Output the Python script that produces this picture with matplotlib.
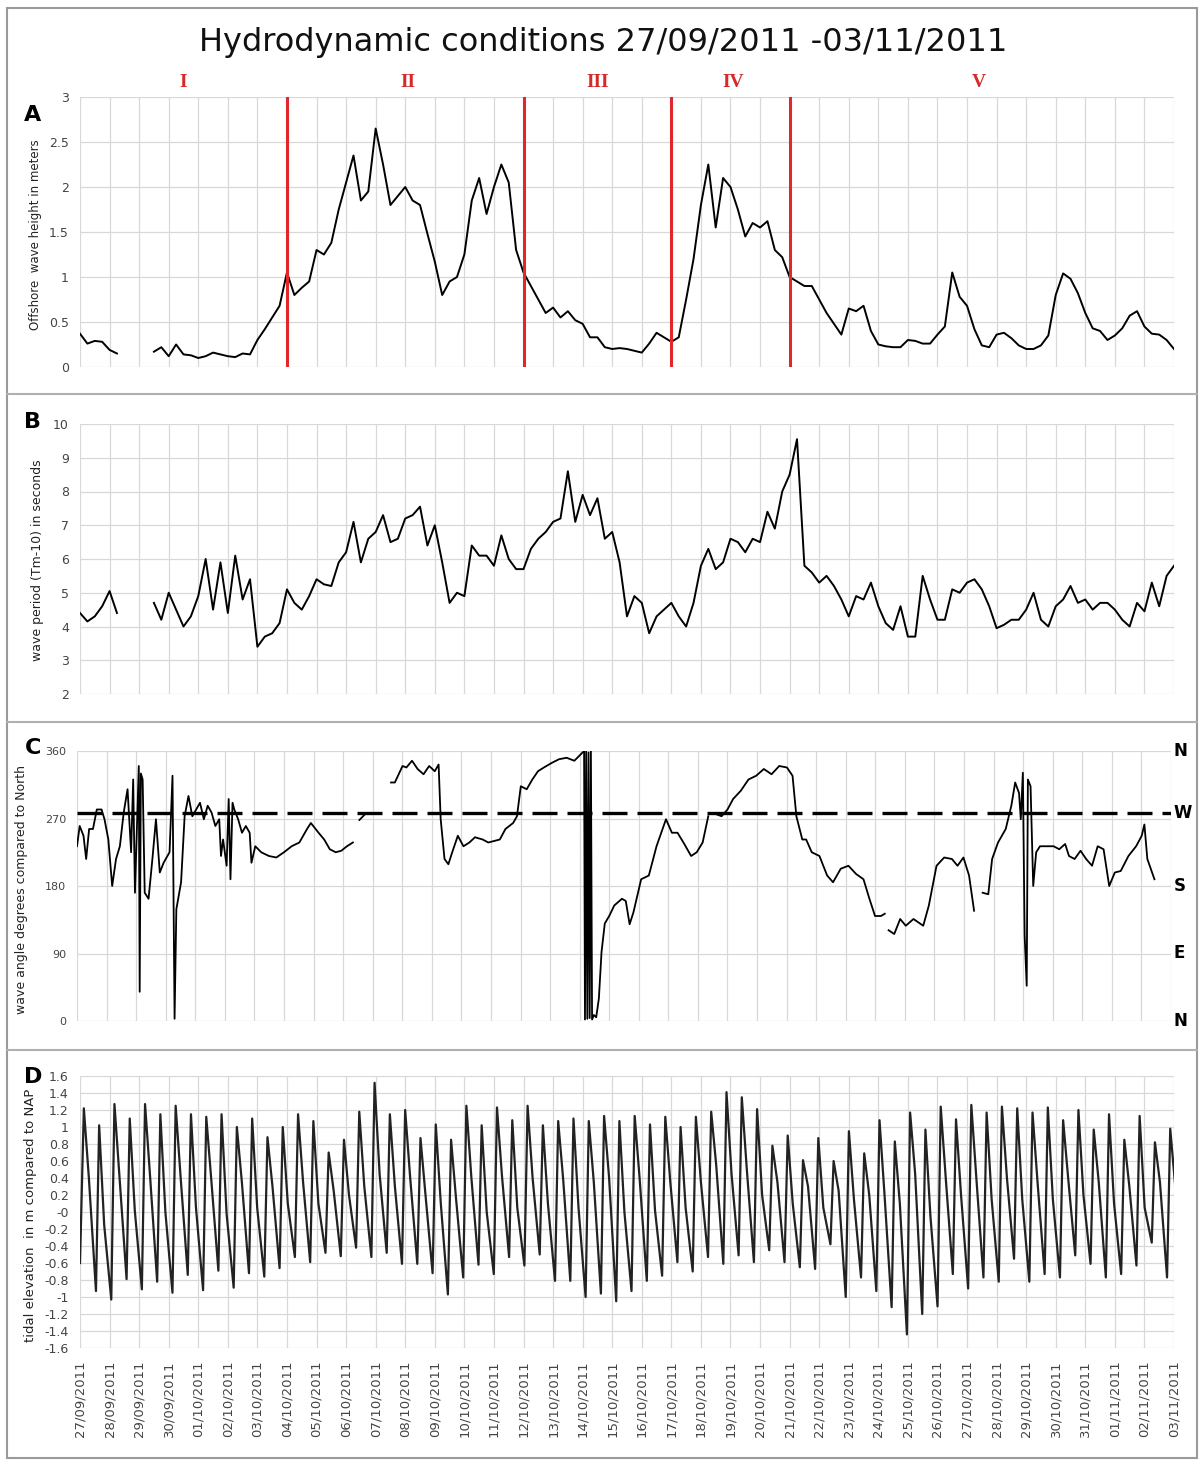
import numpy as np
import pandas as pd
import matplotlib
matplotlib.use('Agg')
import matplotlib.pyplot as plt
from matplotlib.patches import Rectangle
from matplotlib.lines import Line2D

nan = np.nan

# daily ticks 27/09/2011 .. 03/11/2011
dates = pd.date_range('2011-09-27', '2011-11-03', freq='D')
date_labels = [d.strftime('%d/%m/%Y') for d in dates]

# A: offshore wave height (m), 6-hourly values from 27/09 00:00
wave_height = [
    0.37, 0.26, 0.29, 0.28,  0.19, 0.15, nan, nan,  nan, nan, 0.17, 0.22,
    0.12, 0.25, 0.14, 0.13,  0.10, 0.12, 0.16, 0.14,  0.12, 0.11, 0.15, 0.14,
    0.30, 0.42, 0.55, 0.68,  1.05, 0.80, 0.88, 0.95,  1.30, 1.25, 1.38, 1.75,
    2.05, 2.35, 1.85, 1.95,  2.65, 2.25, 1.80, 1.90,  2.00, 1.85, 1.80, 1.48,
    1.17, 0.80, 0.95, 1.00,  1.25, 1.85, 2.10, 1.70,  2.00, 2.25, 2.05, 1.30,
    1.05, 0.90, 0.75, 0.60,  0.66, 0.55, 0.62, 0.52,  0.48, 0.33, 0.33, 0.22,
    0.20, 0.21, 0.20, 0.18,  0.16, 0.26, 0.38, 0.33,  0.28, 0.33, 0.75, 1.20,
    1.80, 2.25, 1.55, 2.10,  2.00, 1.75, 1.45, 1.60,  1.55, 1.62, 1.30, 1.22,
    1.00, 0.95, 0.90, 0.90,  0.75, 0.60, 0.48, 0.36,  0.65, 0.62, 0.68, 0.40,
    0.25, 0.23, 0.22, 0.22,  0.30, 0.29, 0.26, 0.26,  0.36, 0.45, 1.05, 0.78,
    0.68, 0.42, 0.24, 0.22,  0.36, 0.38, 0.32, 0.24,  0.20, 0.20, 0.24, 0.35,
    0.80, 1.04, 0.98, 0.82,  0.60, 0.43, 0.40, 0.30,  0.35, 0.43, 0.57, 0.62,
    0.45, 0.37, 0.36, 0.30,  0.20,
]

# B: wave period Tm-10 (s), same 6-hourly steps
wave_period = [
    4.40, 4.15, 4.30, 4.60,  5.05, 4.40, nan, nan,  nan, nan, 4.70, 4.20,
    5.00, 4.50, 4.00, 4.30,  4.90, 6.00, 4.50, 5.90,  4.40, 6.10, 4.80, 5.40,
    3.40, 3.70, 3.80, 4.10,  5.10, 4.70, 4.50, 4.90,  5.40, 5.25, 5.20, 5.90,
    6.20, 7.10, 5.90, 6.60,  6.80, 7.30, 6.50, 6.60,  7.20, 7.30, 7.55, 6.40,
    7.00, 5.90, 4.70, 5.00,  4.90, 6.40, 6.10, 6.10,  5.80, 6.70, 6.00, 5.70,
    5.70, 6.30, 6.60, 6.80,  7.10, 7.20, 8.60, 7.10,  7.90, 7.30, 7.80, 6.60,
    6.80, 5.90, 4.30, 4.90,  4.70, 3.80, 4.30, 4.50,  4.70, 4.30, 4.00, 4.70,
    5.80, 6.30, 5.70, 5.90,  6.60, 6.50, 6.20, 6.60,  6.50, 7.40, 6.90, 8.00,
    8.50, 9.55, 5.80, 5.60,  5.30, 5.50, 5.20, 4.80,  4.30, 4.90, 4.80, 5.30,
    4.60, 4.10, 3.90, 4.60,  3.70, 3.70, 5.50, 4.80,  4.20, 4.20, 5.10, 5.00,
    5.30, 5.40, 5.10, 4.60,  3.95, 4.05, 4.20, 4.20,  4.50, 5.00, 4.20, 4.00,
    4.60, 4.80, 5.20, 4.70,  4.80, 4.50, 4.70, 4.70,  4.50, 4.20, 4.00, 4.70,
    4.45, 5.30, 4.60, 5.50,  5.80,
]

# storm phases: boundaries in days after 27/09 and label positions
phase_bounds = [7, 15, 20, 24]
phase_names = ['I', 'II', 'III', 'IV', 'V']
phase_label_day = [3.5, 11.1, 17.5, 22.1, 30.4]

# C: wave direction (degrees from North)
angle_day = [
    0.00, 0.09, 0.22, 0.31, 0.41, 0.54, 0.67, 0.83, 0.93, 1.06, 1.19, 1.32,
    1.45, 1.58, 1.71, 1.83, 1.90, 1.96, 2.09, 2.12, 2.16, 2.22, 2.29, 2.42,
    2.55, 2.67, 2.80, 2.93, 3.13, 3.23, 3.30, 3.36, 3.52, 3.64, 3.77, 3.90,
    4.03, 4.16, 4.29, 4.42, 4.55, 4.68, 4.81, 4.87, 4.94, 5.06, 5.13, 5.19,
    5.26, 5.32, 5.45, 5.58, 5.71, 5.84, 5.90, 6.03, 6.23, 6.49, 6.74, 7.00,
    7.26, 7.52, 7.78, 7.91, 8.17, 8.36, 8.55, 8.75, 8.94, 9.13, 9.33, 9.34,
    9.55, 9.75, 9.76, 10.62, 10.75, 10.88, 11.01, 11.14, 11.33, 11.52, 11.72,
    11.91, 12.10, 12.23, 12.30, 12.43, 12.56, 12.69, 12.88, 13.07, 13.27,
    13.46, 13.72, 13.91, 14.11, 14.30, 14.49, 14.75, 14.88, 15.01, 15.21,
    15.40, 15.59, 15.79, 16.05, 16.30, 16.56, 16.82, 17.02, 17.15, 17.18,
    17.22, 17.26, 17.30, 17.34, 17.38, 17.42, 17.48, 17.56, 17.65, 17.74,
    17.85, 18.00, 18.17, 18.43, 18.56, 18.69, 18.82, 19.08, 19.34, 19.60,
    19.92, 20.12, 20.31, 20.51, 20.77, 20.96, 21.16, 21.35, 21.36, 21.60,
    21.80, 22.00, 22.19, 22.45, 22.71, 22.97, 23.23, 23.49, 23.75, 24.01,
    24.20, 24.33, 24.53, 24.66, 24.85, 25.11, 25.37, 25.57, 25.83, 26.09,
    26.35, 26.60, 26.80, 26.99, 27.19, 27.32, 27.38, 27.45, 27.64, 27.84,
    28.03, 28.29, 28.62, 28.81, 29.07, 29.33, 29.59, 29.78, 29.98, 30.17,
    30.34, 30.40, 30.63, 30.82, 30.95, 31.15, 31.41, 31.60, 31.73, 31.86,
    31.92, 31.99, 32.05, 32.12, 32.16, 32.25, 32.34, 32.44, 32.57, 32.77,
    33.03, 33.22, 33.42, 33.55, 33.74, 33.94, 34.13, 34.33, 34.52, 34.72,
    34.91, 35.10, 35.30, 35.56, 35.82, 36.01, 36.10, 36.20, 36.44,
]
angle_deg = [
    233, 260, 247, 216, 256, 256, 282, 282, 269, 242, 180, 216,
    233, 278, 309, 225, 322, 171, 340, 39, 330, 322, 171, 163,
    216, 269, 198, 211, 225, 327, 3, 149, 185, 273, 300, 273,
    282, 291, 269, 287, 278, 260, 269, 220, 242, 207, 296, 189,
    291, 282, 269, 251, 260, 251, 211, 233, 225, 220, 218, 225,
    233, 238, 256, 264, 251, 242, 229, 225, 227, 233, 238, nan,
    268, 276, nan, 318, 318, 329, 340, 338, 347, 336, 329,
    340, 333, 342, 269, 216, 209, 225, 247, 233, 238,
    245, 242, 238, 240, 242, 256, 264, 273, 313, 309,
    322, 333, 338, 344, 349, 351, 347, 355, 360, 2,
    360, 3, 358, 4, 360, 2, 8, 5, 30, 92,
    130, 140, 154, 163, 160, 129, 145, 189, 194, 233,
    269, 251, 251, 238, 220, 225, 238, 273, nan, 276,
    273, 282, 296, 307, 322, 327, 336, 329, 340, 338,
    327, 273, 242, 242, 225, 220, 194, 185, 203, 207,
    196, 189, 163, 140, 140, 143, nan, 121, 116, 136,
    127, 136, 127, 154, 207, 218, 216, 207, 218, 194,
    147, nan, 171, 169, 216, 238, 256, 287, 318, 304,
    269, 331, 114, 47, 322, 313, 180, 225, 233, 233,
    233, 229, 236, 220, 216, 227, 216, 207, 233, 229,
    180, 198, 200, 220, 233, 247, 262, 216, 189,
]
coast_normal = 277
compass = [(360, 'N'), (277, 'W'), (180, 'S'), (90, 'E'), (0, 'N')]

# D: tidal elevation (m NAP): high waters, ebb shoulders and low waters per tide
tide_start = -0.60
hw_height = [
    1.22, 1.02, 1.27, 1.10, 1.27, 1.15, 1.25, 1.15, 1.12, 1.15,
    1.00, 1.10, 0.88, 1.00, 1.15, 1.07, 0.70, 0.85, 1.18, 1.52,
    1.15, 1.20, 0.87, 1.03, 0.85, 1.25, 1.02, 1.23, 1.08, 1.25,
    1.02, 1.07, 1.10, 1.07, 1.13, 1.07, 1.13, 1.03, 1.12, 1.00,
    1.12, 1.18, 1.41, 1.35, 1.21, 0.78, 0.90, 0.61, 0.87, 0.60,
    0.95, 0.69, 1.08, 0.83, 1.17, 0.97, 1.24, 1.09, 1.26, 1.17,
    1.24, 1.22, 1.17, 1.23, 1.08, 1.20, 0.97, 1.15, 0.85, 1.13,
    0.82, 0.98,
]
ebb_shoulder = [
    0.40, -0.15, 0.41, 0.02, 0.42, 0.00, 0.40, 0.05, 0.38, -0.02,
    0.35, 0.05, 0.30, 0.10, 0.35, 0.10, 0.25, 0.20, 0.30, 0.45,
    0.30, 0.40, 0.20, 0.10, 0.15, 0.40, 0.00, 0.42, 0.05, 0.40,
    0.10, 0.38, 0.05, 0.35, 0.40, 0.00, 0.38, 0.02, 0.35, 0.05,
    0.35, 0.55, 0.45, 0.50, 0.20, 0.35, 0.10, 0.30, 0.05, 0.25,
    0.15, 0.20, 0.20, 0.10, 0.45, -0.05, 0.40, 0.20, 0.40, 0.15,
    0.40, 0.15, 0.35, 0.15, 0.40, 0.20, 0.35, 0.10, 0.30, 0.05,
    0.35, 0.30,
]
lw_height = [
    -0.93, -1.03, -0.79, -0.91, -0.82, -0.95, -0.74, -0.92, -0.69, -0.89,
    -0.72, -0.76, -0.66, -0.53, -0.59, -0.48, -0.52, -0.42, -0.53, -0.48,
    -0.61, -0.61, -0.72, -0.97, -0.77, -0.62, -0.73, -0.53, -0.63, -0.50,
    -0.81, -0.81, -1.00, -0.96, -1.05, -0.93, -0.81, -0.75, -0.59, -0.70,
    -0.53, -0.61, -0.51, -0.59, -0.45, -0.59, -0.65, -0.67, -0.38, -1.00,
    -0.77, -0.93, -1.12, -1.44, -1.20, -1.11, -0.73, -0.90, -0.77, -0.82,
    -0.55, -0.82, -0.73, -0.77, -0.51, -0.61, -0.77, -0.73, -0.63, -0.36,
    -0.77,
]

# time axes (days after 27/09/2011 00:00)
t6h = np.arange(len(wave_height)) * 0.25
M2 = 0.5175  # semidiurnal tidal period in days
hw_day = 0.13 + M2 * np.arange(len(hw_height))
tide_t, tide_z = [0.0], [tide_start]
for i in range(len(hw_height)):
    tide_t += [hw_day[i], hw_day[i] + 0.17]
    tide_z += [hw_height[i], ebb_shoulder[i]]
    if i < len(lw_height):
        tide_t.append(hw_day[i] + 0.41)
        tide_z.append(lw_height[i])

# ---- figure ----
W_PX, H_PX = 1200, 1461
fig = plt.figure(figsize=(W_PX / 100, H_PX / 100), dpi=100)


def panel(top, bottom, left=80, right=1174):
    return fig.add_axes([left / W_PX, 1 - bottom / H_PX,
                         (right - left) / W_PX, (bottom - top) / H_PX])


def style(ax, ylim, yticks, labelsize=9):
    ax.set_xlim(0, 37)
    ax.set_ylim(*ylim)
    ax.set_yticks(yticks)
    ax.set_xticks(range(38))
    ax.set_xticklabels([])
    ax.grid(True, color='#d8d8d8', lw=0.9)
    ax.set_axisbelow(True)
    for s in ax.spines.values():
        s.set_visible(False)
    ax.tick_params(length=0, pad=8, labelsize=labelsize, labelcolor='#444444')


axA = panel(97, 367)
axB = panel(424, 694)
axC = panel(751, 1021, 77, 1171)
axD = panel(1076, 1348)

# A
style(axA, (0, 3), [0, 0.5, 1, 1.5, 2, 2.5, 3])
axA.set_yticklabels(['0', '0.5', '1', '1.5', '2', '2.5', '3'])
axA.plot(t6h, wave_height, color='black', lw=1.4)
for d in phase_bounds:
    axA.axvline(d, color='#e3262b', lw=2.2)
for d, name in zip(phase_label_day, phase_names):
    axA.text(d, 3.16, name, color='#d42a2a', ha='center', va='center',
             fontsize=14, fontweight='bold', family='Liberation Serif',
             clip_on=False)

# B
style(axB, (2, 10), range(2, 11))
axB.plot(t6h, wave_period, color='black', lw=1.4)

# C
style(axC, (0, 360), [0, 90, 180, 270, 360], labelsize=8)
axC.axhline(coast_normal, color='black', lw=2.4, dashes=(7.5, 3))
axC.plot(angle_day, angle_deg, color='black', lw=1.3)
for v, s in compass:
    axC.text(37.1, v, s, ha='left', va='center', fontsize=12,
             fontweight='bold', clip_on=False)

# D
style(axD, (-1.6, 1.6), np.round(np.arange(-1.6, 1.61, 0.2), 1))
axD.set_yticklabels([f'{v:g}' for v in np.round(np.arange(-1.6, 1.61, 0.2), 1)])
axD.plot(tide_t, tide_z, color='#222222', lw=1.6)
axD.set_xticklabels(date_labels, rotation=90, fontsize=9.5, color='#444444')
axD.tick_params(axis='x', pad=9)

# panel letters and axis titles
for y, letter in [(115, 'A'), (422, 'B'), (748, 'C'), (1077, 'D')]:
    fig.text(33 / W_PX, 1 - y / H_PX, letter, fontsize=16, fontweight='bold',
             ha='center', va='center')
ylabels = [(36, 235, 'Offshore  wave height in meters', 8.5),
           (38, 560, 'wave period (Tm-10) in seconds', 9),
           (22, 890, 'wave angle degrees compared to North', 9),
           (31, 1215, 'tidal elevation  in m compared to NAP', 9.5)]
for x, y, s, size in ylabels:
    fig.text(x / W_PX, 1 - y / H_PX, s, rotation=90, fontsize=size,
             ha='center', va='center', color='#222222')

fig.text(603 / W_PX, 1 - 42 / H_PX, 'Hydrodynamic conditions 27/09/2011 -03/11/2011',
         fontsize=23, ha='center', va='center', color='#111111')

# outer frame and panel separators
fig.add_artist(Rectangle((7 / W_PX, 3 / H_PX), 1190 / W_PX, 1450 / H_PX,
                         transform=fig.transFigure, fill=False,
                         edgecolor='#9a9a9a', lw=1.5))
for y in (394, 722, 1050):
    fig.add_artist(Line2D([7 / W_PX, 1197 / W_PX], [1 - y / H_PX] * 2,
                          transform=fig.transFigure, color='#b0b0b0', lw=1.5))

fig.savefig('out.png', dpi=100)
